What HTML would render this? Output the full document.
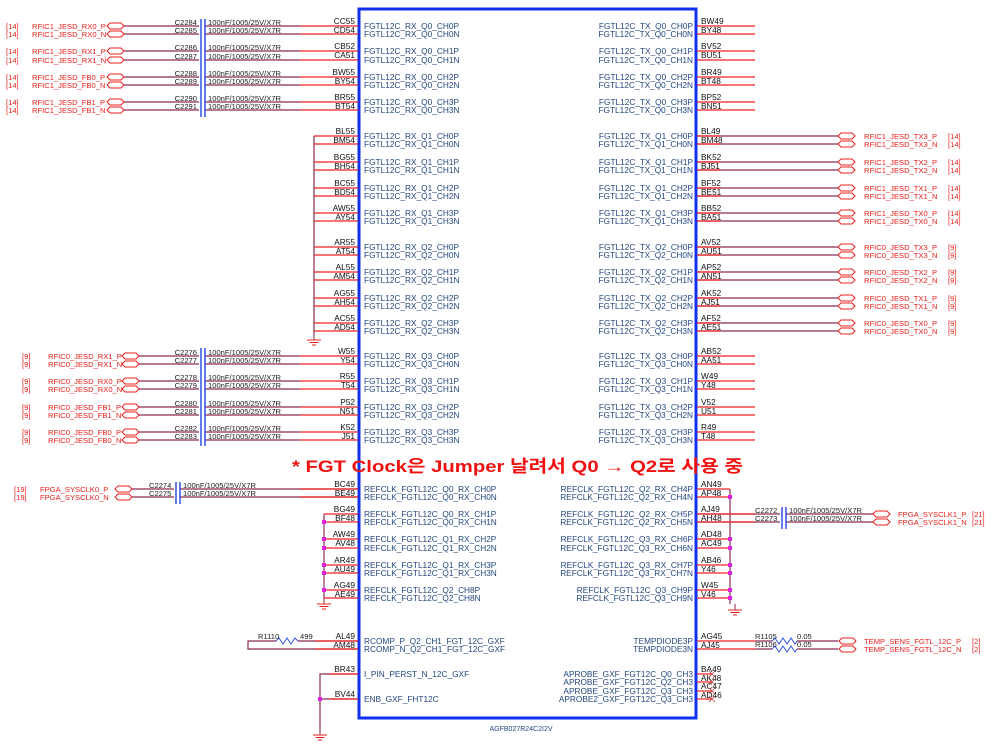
<!DOCTYPE html>
<html><head><meta charset="utf-8"><style>
html,body{margin:0;padding:0;background:#fff;}
svg{display:block;font-family:"Liberation Sans",Arial,sans-serif;}
.b{font-size:8.3px;fill:#23477e;}
.pn{font-size:8.3px;fill:#111;}
.r{font-size:7.6px;fill:#e8201c;}
.c{font-size:7.6px;fill:#222;}
.red{stroke:#f02020;stroke-width:1.2;}
.m{stroke:#8c2a55;stroke-width:1.2;}
.cap{stroke:#3050e0;stroke-width:1.5;}
.pt{fill:#fff;stroke:#e8201c;stroke-width:1;}
.pk{font-size:4px;fill:#e8201c;}
</style></head><body>
<svg width="999" height="750" viewBox="0 0 999 750" xmlns="http://www.w3.org/2000/svg">
<defs>
<path id="port" d="M0,-3 L11,-3 L14,0 L11,3 L0,3 L-3,0 Z"/>
<g id="gnd"><line x1="0" y1="0" x2="0" y2="6" stroke="#8c2a55"/><line x1="-7" y1="6" x2="7" y2="6" stroke="#e8201c"/><line x1="-4.5" y1="8.5" x2="4.5" y2="8.5" stroke="#e8201c"/><line x1="-2" y1="11" x2="2" y2="11" stroke="#e8201c"/></g>
</defs>

<!-- main box -->
<rect x="359" y="9" width="337" height="709" fill="none" stroke="#1030f0" stroke-width="3"/>
<text x="521" y="731" font-size="7px" fill="#23477e" text-anchor="middle">AGFB027R24C2I2V</text>

<!-- ===== LEFT RX Q0 (RFIC1) ===== -->
<g>
<line x1="122" y1="26" x2="300" y2="26" class="m"/><line x1="300" y1="26" x2="358" y2="26" class="red"/>
<line x1="122" y1="34" x2="300" y2="34" class="m"/><line x1="300" y1="34" x2="358" y2="34" class="red"/>
<line x1="122" y1="51" x2="300" y2="51" class="m"/><line x1="300" y1="51" x2="358" y2="51" class="red"/>
<line x1="122" y1="60" x2="300" y2="60" class="m"/><line x1="300" y1="60" x2="358" y2="60" class="red"/>
<line x1="122" y1="77" x2="300" y2="77" class="m"/><line x1="300" y1="77" x2="358" y2="77" class="red"/>
<line x1="122" y1="85" x2="300" y2="85" class="m"/><line x1="300" y1="85" x2="358" y2="85" class="red"/>
<line x1="122" y1="102" x2="300" y2="102" class="m"/><line x1="300" y1="102" x2="358" y2="102" class="red"/>
<line x1="122" y1="110" x2="300" y2="110" class="m"/><line x1="300" y1="110" x2="358" y2="110" class="red"/>
<rect x="199" y="20" width="6" height="98" fill="#fff"/>
<line x1="201" y1="19" x2="201" y2="117" class="cap"/><line x1="205" y1="19" x2="205" y2="117" class="cap"/>
</g>
<g class="c" text-anchor="end">
<text x="197" y="25">C2284</text><text x="197" y="33">C2285</text>
<text x="197" y="50">C2286</text><text x="197" y="59">C2287</text>
<text x="197" y="76">C2288</text><text x="197" y="84">C2289</text>
<text x="197" y="101">C2290</text><text x="197" y="109">C2291</text>
</g>
<g class="c">
<text x="208" y="25">100nF/1005/25V/X7R</text><text x="208" y="33">100nF/1005/25V/X7R</text>
<text x="208" y="50">100nF/1005/25V/X7R</text><text x="208" y="59">100nF/1005/25V/X7R</text>
<text x="208" y="76">100nF/1005/25V/X7R</text><text x="208" y="84">100nF/1005/25V/X7R</text>
<text x="208" y="101">100nF/1005/25V/X7R</text><text x="208" y="109">100nF/1005/25V/X7R</text>
</g>
<g>
<use href="#port" x="110" y="26" class="pt"/><use href="#port" x="110" y="34" class="pt"/>
<use href="#port" x="110" y="51" class="pt"/><use href="#port" x="110" y="60" class="pt"/>
<use href="#port" x="110" y="77" class="pt"/><use href="#port" x="110" y="85" class="pt"/>
<use href="#port" x="110" y="102" class="pt"/><use href="#port" x="110" y="110" class="pt"/>
</g>
<g class="r">
<text x="6" y="29">[14]</text><text x="32" y="29">RFIC1_JESD_RX0_P</text>
<text x="6" y="37">[14]</text><text x="32" y="37">RFIC1_JESD_RX0_N</text>
<text x="6" y="54">[14]</text><text x="32" y="54">RFIC1_JESD_RX1_P</text>
<text x="6" y="63">[14]</text><text x="32" y="63">RFIC1_JESD_RX1_N</text>
<text x="6" y="80">[14]</text><text x="32" y="80">RFIC1_JESD_FB0_P</text>
<text x="6" y="88">[14]</text><text x="32" y="88">RFIC1_JESD_FB0_N</text>
<text x="6" y="105">[14]</text><text x="32" y="105">RFIC1_JESD_FB1_P</text>
<text x="6" y="113">[14]</text><text x="32" y="113">RFIC1_JESD_FB1_N</text>
</g>

<!-- ===== LEFT RX Q1/Q2 grounded ===== -->
<line x1="314" y1="136" x2="314" y2="334" class="m"/>
<use href="#gnd" x="314" y="334"/>
<g class="red">
<line x1="314" y1="136" x2="358" y2="136"/><line x1="314" y1="144" x2="358" y2="144"/>
<line x1="314" y1="162" x2="358" y2="162"/><line x1="314" y1="170" x2="358" y2="170"/>
<line x1="314" y1="188" x2="358" y2="188"/><line x1="314" y1="196" x2="358" y2="196"/>
<line x1="314" y1="213" x2="358" y2="213"/><line x1="314" y1="221" x2="358" y2="221"/>
<line x1="314" y1="247" x2="358" y2="247"/><line x1="314" y1="255" x2="358" y2="255"/>
<line x1="314" y1="272" x2="358" y2="272"/><line x1="314" y1="280" x2="358" y2="280"/>
<line x1="314" y1="298" x2="358" y2="298"/><line x1="314" y1="306" x2="358" y2="306"/>
<line x1="314" y1="323" x2="358" y2="323"/><line x1="314" y1="331" x2="358" y2="331"/>
</g>

<!-- ===== LEFT RX Q3 (RFIC0) ===== -->
<g>
<line x1="137" y1="356" x2="300" y2="356" class="m"/><line x1="300" y1="356" x2="358" y2="356" class="red"/>
<line x1="137" y1="364" x2="300" y2="364" class="m"/><line x1="300" y1="364" x2="358" y2="364" class="red"/>
<line x1="137" y1="381" x2="300" y2="381" class="m"/><line x1="300" y1="381" x2="358" y2="381" class="red"/>
<line x1="137" y1="389" x2="300" y2="389" class="m"/><line x1="300" y1="389" x2="358" y2="389" class="red"/>
<line x1="137" y1="407" x2="300" y2="407" class="m"/><line x1="300" y1="407" x2="358" y2="407" class="red"/>
<line x1="137" y1="415" x2="300" y2="415" class="m"/><line x1="300" y1="415" x2="358" y2="415" class="red"/>
<line x1="137" y1="432" x2="300" y2="432" class="m"/><line x1="300" y1="432" x2="358" y2="432" class="red"/>
<line x1="137" y1="440" x2="300" y2="440" class="m"/><line x1="300" y1="440" x2="358" y2="440" class="red"/>
<rect x="199" y="348" width="6" height="98" fill="#fff"/>
<line x1="201" y1="348" x2="201" y2="446" class="cap"/><line x1="205" y1="348" x2="205" y2="446" class="cap"/>
<use href="#port" x="125" y="356" class="pt"/><use href="#port" x="125" y="364" class="pt"/>
<use href="#port" x="125" y="381" class="pt"/><use href="#port" x="125" y="389" class="pt"/>
<use href="#port" x="125" y="407" class="pt"/><use href="#port" x="125" y="415" class="pt"/>
<use href="#port" x="125" y="432" class="pt"/><use href="#port" x="125" y="440" class="pt"/>
</g>
<g class="c" text-anchor="end">
<text x="197" y="355">C2276</text><text x="197" y="363">C2277</text>
<text x="197" y="380">C2278</text><text x="197" y="388">C2279</text>
<text x="197" y="406">C2280</text><text x="197" y="414">C2281</text>
<text x="197" y="431">C2282</text><text x="197" y="439">C2283</text>
</g>
<g class="c">
<text x="208" y="355">100nF/1005/25V/X7R</text><text x="208" y="363">100nF/1005/25V/X7R</text>
<text x="208" y="380">100nF/1005/25V/X7R</text><text x="208" y="388">100nF/1005/25V/X7R</text>
<text x="208" y="406">100nF/1005/25V/X7R</text><text x="208" y="414">100nF/1005/25V/X7R</text>
<text x="208" y="431">100nF/1005/25V/X7R</text><text x="208" y="439">100nF/1005/25V/X7R</text>
</g>
<g class="r">
<text x="22" y="359">[9]</text><text x="48" y="359">RFIC0_JESD_RX1_P</text>
<text x="22" y="367">[9]</text><text x="48" y="367">RFIC0_JESD_RX1_N</text>
<text x="22" y="384">[9]</text><text x="48" y="384">RFIC0_JESD_RX0_P</text>
<text x="22" y="392">[9]</text><text x="48" y="392">RFIC0_JESD_RX0_N</text>
<text x="22" y="410">[9]</text><text x="48" y="410">RFIC0_JESD_FB1_P</text>
<text x="22" y="418">[9]</text><text x="48" y="418">RFIC0_JESD_FB1_N</text>
<text x="22" y="435">[9]</text><text x="48" y="435">RFIC0_JESD_FB0_P</text>
<text x="22" y="443">[9]</text><text x="48" y="443">RFIC0_JESD_FB0_N</text>
</g>

<!-- left pin numbers RX -->
<g class="pn" text-anchor="end">
<text x="355" y="24">CC55</text><text x="355" y="33">CD54</text>
<text x="355" y="49">CB52</text><text x="355" y="58">CA51</text>
<text x="355" y="75">BW55</text><text x="355" y="84">BY54</text>
<text x="355" y="100">BR55</text><text x="355" y="109">BT54</text>
<text x="355" y="134">BL55</text><text x="355" y="143">BM54</text>
<text x="355" y="160">BG55</text><text x="355" y="169">BH54</text>
<text x="355" y="186">BC55</text><text x="355" y="195">BD54</text>
<text x="355" y="211">AW55</text><text x="355" y="220">AY54</text>
<text x="355" y="245">AR55</text><text x="355" y="254">AT54</text>
<text x="355" y="270">AL55</text><text x="355" y="279">AM54</text>
<text x="355" y="296">AG55</text><text x="355" y="305">AH54</text>
<text x="355" y="321">AC55</text><text x="355" y="330">AD54</text>
<text x="355" y="354">W55</text><text x="355" y="363">Y54</text>
<text x="355" y="379">R55</text><text x="355" y="388">T54</text>
<text x="355" y="405">P52</text><text x="355" y="414">N51</text>
<text x="355" y="430">K52</text><text x="355" y="439">J51</text>
</g>
<!-- left box labels RX -->
<g class="b">
<text x="364" y="29">FGTL12C_RX_Q0_CH0P</text><text x="364" y="37">FGTL12C_RX_Q0_CH0N</text>
<text x="364" y="54">FGTL12C_RX_Q0_CH1P</text><text x="364" y="63">FGTL12C_RX_Q0_CH1N</text>
<text x="364" y="80">FGTL12C_RX_Q0_CH2P</text><text x="364" y="88">FGTL12C_RX_Q0_CH2N</text>
<text x="364" y="105">FGTL12C_RX_Q0_CH3P</text><text x="364" y="113">FGTL12C_RX_Q0_CH3N</text>
<text x="364" y="139">FGTL12C_RX_Q1_CH0P</text><text x="364" y="147">FGTL12C_RX_Q1_CH0N</text>
<text x="364" y="165">FGTL12C_RX_Q1_CH1P</text><text x="364" y="173">FGTL12C_RX_Q1_CH1N</text>
<text x="364" y="191">FGTL12C_RX_Q1_CH2P</text><text x="364" y="199">FGTL12C_RX_Q1_CH2N</text>
<text x="364" y="216">FGTL12C_RX_Q1_CH3P</text><text x="364" y="224">FGTL12C_RX_Q1_CH3N</text>
<text x="364" y="250">FGTL12C_RX_Q2_CH0P</text><text x="364" y="258">FGTL12C_RX_Q2_CH0N</text>
<text x="364" y="275">FGTL12C_RX_Q2_CH1P</text><text x="364" y="283">FGTL12C_RX_Q2_CH1N</text>
<text x="364" y="301">FGTL12C_RX_Q2_CH2P</text><text x="364" y="309">FGTL12C_RX_Q2_CH2N</text>
<text x="364" y="326">FGTL12C_RX_Q2_CH3P</text><text x="364" y="334">FGTL12C_RX_Q2_CH3N</text>
<text x="364" y="359">FGTL12C_RX_Q3_CH0P</text><text x="364" y="367">FGTL12C_RX_Q3_CH0N</text>
<text x="364" y="384">FGTL12C_RX_Q3_CH1P</text><text x="364" y="392">FGTL12C_RX_Q3_CH1N</text>
<text x="364" y="410">FGTL12C_RX_Q3_CH2P</text><text x="364" y="418">FGTL12C_RX_Q3_CH2N</text>
<text x="364" y="435">FGTL12C_RX_Q3_CH3P</text><text x="364" y="443">FGTL12C_RX_Q3_CH3N</text>
</g>

<!-- ===== RIGHT TX ===== -->
<g class="red">
<line x1="697" y1="26" x2="755" y2="26"/><line x1="697" y1="34" x2="755" y2="34"/>
<line x1="697" y1="51" x2="755" y2="51"/><line x1="697" y1="60" x2="755" y2="60"/>
<line x1="697" y1="77" x2="755" y2="77"/><line x1="697" y1="85" x2="755" y2="85"/>
<line x1="697" y1="102" x2="755" y2="102"/><line x1="697" y1="110" x2="755" y2="110"/>
<line x1="697" y1="356" x2="755" y2="356"/><line x1="697" y1="364" x2="755" y2="364"/>
<line x1="697" y1="381" x2="755" y2="381"/><line x1="697" y1="389" x2="755" y2="389"/>
<line x1="697" y1="407" x2="755" y2="407"/><line x1="697" y1="415" x2="755" y2="415"/>
<line x1="697" y1="432" x2="755" y2="432"/><line x1="697" y1="440" x2="755" y2="440"/>
</g>
<g>
<line x1="697" y1="136" x2="840" y2="136" class="m"/><line x1="697" y1="144" x2="840" y2="144" class="m"/>
<line x1="697" y1="162" x2="840" y2="162" class="m"/><line x1="697" y1="170" x2="840" y2="170" class="m"/>
<line x1="697" y1="188" x2="840" y2="188" class="m"/><line x1="697" y1="196" x2="840" y2="196" class="m"/>
<line x1="697" y1="213" x2="840" y2="213" class="m"/><line x1="697" y1="221" x2="840" y2="221" class="m"/>
<line x1="697" y1="247" x2="840" y2="247" class="m"/><line x1="697" y1="255" x2="840" y2="255" class="m"/>
<line x1="697" y1="272" x2="840" y2="272" class="m"/><line x1="697" y1="280" x2="840" y2="280" class="m"/>
<line x1="697" y1="298" x2="840" y2="298" class="m"/><line x1="697" y1="306" x2="840" y2="306" class="m"/>
<line x1="697" y1="323" x2="840" y2="323" class="m"/><line x1="697" y1="331" x2="840" y2="331" class="m"/>
<g class="red">
<line x1="697" y1="136" x2="720" y2="136"/><line x1="697" y1="144" x2="720" y2="144"/>
<line x1="697" y1="162" x2="720" y2="162"/><line x1="697" y1="170" x2="720" y2="170"/>
<line x1="697" y1="188" x2="720" y2="188"/><line x1="697" y1="196" x2="720" y2="196"/>
<line x1="697" y1="213" x2="720" y2="213"/><line x1="697" y1="221" x2="720" y2="221"/>
<line x1="697" y1="247" x2="720" y2="247"/><line x1="697" y1="255" x2="720" y2="255"/>
<line x1="697" y1="272" x2="720" y2="272"/><line x1="697" y1="280" x2="720" y2="280"/>
<line x1="697" y1="298" x2="720" y2="298"/><line x1="697" y1="306" x2="720" y2="306"/>
<line x1="697" y1="323" x2="720" y2="323"/><line x1="697" y1="331" x2="720" y2="331"/>
</g>
<use href="#port" x="841" y="136" class="pt"/><use href="#port" x="841" y="144" class="pt"/>
<use href="#port" x="841" y="162" class="pt"/><use href="#port" x="841" y="170" class="pt"/>
<use href="#port" x="841" y="188" class="pt"/><use href="#port" x="841" y="196" class="pt"/>
<use href="#port" x="841" y="213" class="pt"/><use href="#port" x="841" y="221" class="pt"/>
<use href="#port" x="841" y="247" class="pt"/><use href="#port" x="841" y="255" class="pt"/>
<use href="#port" x="841" y="272" class="pt"/><use href="#port" x="841" y="280" class="pt"/>
<use href="#port" x="841" y="298" class="pt"/><use href="#port" x="841" y="306" class="pt"/>
<use href="#port" x="841" y="323" class="pt"/><use href="#port" x="841" y="331" class="pt"/>
</g>
<g class="r">
<text x="864" y="139">RFIC1_JESD_TX3_P</text><text x="948" y="139">[14]</text>
<text x="864" y="147">RFIC1_JESD_TX3_N</text><text x="948" y="147">[14]</text>
<text x="864" y="165">RFIC1_JESD_TX2_P</text><text x="948" y="165">[14]</text>
<text x="864" y="173">RFIC1_JESD_TX2_N</text><text x="948" y="173">[14]</text>
<text x="864" y="191">RFIC1_JESD_TX1_P</text><text x="948" y="191">[14]</text>
<text x="864" y="199">RFIC1_JESD_TX1_N</text><text x="948" y="199">[14]</text>
<text x="864" y="216">RFIC1_JESD_TX0_P</text><text x="948" y="216">[14]</text>
<text x="864" y="224">RFIC1_JESD_TX0_N</text><text x="948" y="224">[14]</text>
<text x="864" y="250">RFIC0_JESD_TX3_P</text><text x="948" y="250">[9]</text>
<text x="864" y="258">RFIC0_JESD_TX3_N</text><text x="948" y="258">[9]</text>
<text x="864" y="275">RFIC0_JESD_TX2_P</text><text x="948" y="275">[9]</text>
<text x="864" y="283">RFIC0_JESD_TX2_N</text><text x="948" y="283">[9]</text>
<text x="864" y="301">RFIC0_JESD_TX1_P</text><text x="948" y="301">[9]</text>
<text x="864" y="309">RFIC0_JESD_TX1_N</text><text x="948" y="309">[9]</text>
<text x="864" y="326">RFIC0_JESD_TX0_P</text><text x="948" y="326">[9]</text>
<text x="864" y="334">RFIC0_JESD_TX0_N</text><text x="948" y="334">[9]</text>
</g>
<g class="pn">
<text x="701" y="24">BW49</text><text x="701" y="33">BY48</text>
<text x="701" y="49">BV52</text><text x="701" y="58">BU51</text>
<text x="701" y="75">BR49</text><text x="701" y="84">BT48</text>
<text x="701" y="100">BP52</text><text x="701" y="109">BN51</text>
<text x="701" y="134">BL49</text><text x="701" y="143">BM48</text>
<text x="701" y="160">BK52</text><text x="701" y="169">BJ51</text>
<text x="701" y="186">BF52</text><text x="701" y="195">BE51</text>
<text x="701" y="211">BB52</text><text x="701" y="220">BA51</text>
<text x="701" y="245">AV52</text><text x="701" y="254">AU51</text>
<text x="701" y="270">AP52</text><text x="701" y="279">AN51</text>
<text x="701" y="296">AK52</text><text x="701" y="305">AJ51</text>
<text x="701" y="321">AF52</text><text x="701" y="330">AE51</text>
<text x="701" y="354">AB52</text><text x="701" y="363">AA51</text>
<text x="701" y="379">W49</text><text x="701" y="388">Y48</text>
<text x="701" y="405">V52</text><text x="701" y="414">U51</text>
<text x="701" y="430">R49</text><text x="701" y="439">T48</text>
</g>
<g class="b" text-anchor="end">
<text x="693" y="29">FGTL12C_TX_Q0_CH0P</text><text x="693" y="37">FGTL12C_TX_Q0_CH0N</text>
<text x="693" y="54">FGTL12C_TX_Q0_CH1P</text><text x="693" y="63">FGTL12C_TX_Q0_CH1N</text>
<text x="693" y="80">FGTL12C_TX_Q0_CH2P</text><text x="693" y="88">FGTL12C_TX_Q0_CH2N</text>
<text x="693" y="105">FGTL12C_TX_Q0_CH3P</text><text x="693" y="113">FGTL12C_TX_Q0_CH3N</text>
<text x="693" y="139">FGTL12C_TX_Q1_CH0P</text><text x="693" y="147">FGTL12C_TX_Q1_CH0N</text>
<text x="693" y="165">FGTL12C_TX_Q1_CH1P</text><text x="693" y="173">FGTL12C_TX_Q1_CH1N</text>
<text x="693" y="191">FGTL12C_TX_Q1_CH2P</text><text x="693" y="199">FGTL12C_TX_Q1_CH2N</text>
<text x="693" y="216">FGTL12C_TX_Q1_CH3P</text><text x="693" y="224">FGTL12C_TX_Q1_CH3N</text>
<text x="693" y="250">FGTL12C_TX_Q2_CH0P</text><text x="693" y="258">FGTL12C_TX_Q2_CH0N</text>
<text x="693" y="275">FGTL12C_TX_Q2_CH1P</text><text x="693" y="283">FGTL12C_TX_Q2_CH1N</text>
<text x="693" y="301">FGTL12C_TX_Q2_CH2P</text><text x="693" y="309">FGTL12C_TX_Q2_CH2N</text>
<text x="693" y="326">FGTL12C_TX_Q2_CH3P</text><text x="693" y="334">FGTL12C_TX_Q2_CH3N</text>
<text x="693" y="359">FGTL12C_TX_Q3_CH0P</text><text x="693" y="367">FGTL12C_TX_Q3_CH0N</text>
<text x="693" y="384">FGTL12C_TX_Q3_CH1P</text><text x="693" y="392">FGTL12C_TX_Q3_CH1N</text>
<text x="693" y="410">FGTL12C_TX_Q3_CH2P</text><text x="693" y="418">FGTL12C_TX_Q3_CH2N</text>
<text x="693" y="435">FGTL12C_TX_Q3_CH3P</text><text x="693" y="443">FGTL12C_TX_Q3_CH3N</text>
</g>

<!-- note -->
<text x="292" y="472" font-size="17px" font-weight="bold" fill="#f01010" textLength="451" lengthAdjust="spacingAndGlyphs" font-family="'Liberation Sans','Noto Sans CJK KR',sans-serif">* FGT Clock은 Jumper 날려서 Q0 → Q2로 사용 중</text>

<!-- ===== REFCLK LEFT ===== -->
<line x1="130" y1="489" x2="358" y2="489" class="m"/><line x1="130" y1="497" x2="358" y2="497" class="m"/>
<line x1="300" y1="489" x2="358" y2="489" class="red"/><line x1="300" y1="497" x2="358" y2="497" class="red"/>
<rect x="174" y="482" width="6" height="22" fill="#fff"/>
<line x1="176" y1="482" x2="176" y2="504" class="cap"/><line x1="180" y1="482" x2="180" y2="504" class="cap"/>
<use href="#port" x="118" y="489" class="pt"/><use href="#port" x="118" y="497" class="pt"/>
<g class="c"><text x="149" y="488">C2274</text><text x="149" y="496">C2275</text>
<text x="183" y="488">100nF/1005/25V/X7R</text><text x="183" y="496">100nF/1005/25V/X7R</text></g>
<g class="r"><text x="14" y="492">[19]</text><text x="40" y="492">FPGA_SYSCLK0_P</text>
<text x="14" y="500">[19]</text><text x="40" y="500">FPGA_SYSCLK0_N</text></g>
<line x1="324" y1="514" x2="324" y2="598" class="m"/>
<use href="#gnd" x="324" y="598"/>
<g class="red">
<line x1="324" y1="514" x2="358" y2="514"/><line x1="324" y1="522" x2="358" y2="522"/>
<line x1="324" y1="539" x2="358" y2="539"/><line x1="324" y1="548" x2="358" y2="548"/>
<line x1="324" y1="565" x2="358" y2="565"/><line x1="324" y1="573" x2="358" y2="573"/>
<line x1="324" y1="590" x2="358" y2="590"/><line x1="324" y1="598" x2="358" y2="598"/>
</g>
<g fill="#e020e0">
<rect x="322" y="520" width="4" height="4"/><rect x="322" y="537" width="4" height="4"/><rect x="322" y="546" width="4" height="4"/>
<rect x="322" y="563" width="4" height="4"/><rect x="322" y="571" width="4" height="4"/><rect x="322" y="588" width="4" height="4"/>
</g>
<g class="pn" text-anchor="end">
<text x="355" y="487">BC49</text><text x="355" y="496">BE49</text>
<text x="355" y="512">BG49</text><text x="355" y="521">BF48</text>
<text x="355" y="537">AW49</text><text x="355" y="546">AV48</text>
<text x="355" y="563">AR49</text><text x="355" y="572">AU49</text>
<text x="355" y="588">AG49</text><text x="355" y="597">AE49</text>
<text x="355" y="639">AL49</text><text x="355" y="648">AM48</text>
<text x="355" y="672">BR43</text><text x="355" y="697">BV44</text>
</g>
<g class="b">
<text x="364" y="492">REFCLK_FGTL12C_Q0_RX_CH0P</text><text x="364" y="500">REFCLK_FGTL12C_Q0_RX_CH0N</text>
<text x="364" y="517">REFCLK_FGTL12C_Q0_RX_CH1P</text><text x="364" y="525">REFCLK_FGTL12C_Q0_RX_CH1N</text>
<text x="364" y="542">REFCLK_FGTL12C_Q1_RX_CH2P</text><text x="364" y="551">REFCLK_FGTL12C_Q1_RX_CH2N</text>
<text x="364" y="568">REFCLK_FGTL12C_Q1_RX_CH3P</text><text x="364" y="576">REFCLK_FGTL12C_Q1_RX_CH3N</text>
<text x="364" y="593">REFCLK_FGTL12C_Q2_CH8P</text><text x="364" y="601">REFCLK_FGTL12C_Q2_CH8N</text>
<text x="364" y="644">RCOMP_P_Q2_CH1_FGT_12C_GXF</text><text x="364" y="652">RCOMP_N_Q2_CH1_FGT_12C_GXF</text>
<text x="364" y="677">I_PIN_PERST_N_12C_GXF</text><text x="364" y="702">ENB_GXF_FHT12C</text>
</g>

<!-- ===== REFCLK RIGHT ===== -->
<line x1="730" y1="489" x2="730" y2="604" class="m"/>
<use href="#gnd" x="735" y="604"/>
<line x1="697" y1="514" x2="873" y2="514" class="m"/><line x1="697" y1="522" x2="873" y2="522" class="m"/>
<rect x="780" y="507" width="6" height="22" fill="#fff"/>
<line x1="782" y1="507" x2="782" y2="529" class="cap"/><line x1="786" y1="507" x2="786" y2="529" class="cap"/>
<use href="#port" x="876" y="514" class="pt"/><use href="#port" x="876" y="522" class="pt"/>
<g class="c"><text x="755" y="513">C2272</text><text x="755" y="521">C2273</text>
<text x="789" y="513">100nF/1005/25V/X7R</text><text x="789" y="521">100nF/1005/25V/X7R</text></g>
<g class="r"><text x="898" y="517">FPGA_SYSCLK1_P</text><text x="972" y="517">[21]</text>
<text x="898" y="525">FPGA_SYSCLK1_N</text><text x="972" y="525">[21]</text></g>
<g class="red">
<line x1="697" y1="489" x2="730" y2="489"/><line x1="697" y1="497" x2="730" y2="497"/>
<line x1="697" y1="514" x2="755" y2="514"/><line x1="697" y1="522" x2="755" y2="522"/>
<line x1="697" y1="539" x2="730" y2="539"/><line x1="697" y1="548" x2="730" y2="548"/>
<line x1="697" y1="565" x2="730" y2="565"/><line x1="697" y1="573" x2="730" y2="573"/>
<line x1="697" y1="590" x2="730" y2="590"/><line x1="697" y1="598" x2="730" y2="598"/>
<line x1="697" y1="641" x2="755" y2="641"/><line x1="697" y1="649" x2="755" y2="649"/>
<line x1="697" y1="674" x2="712" y2="674"/><line x1="697" y1="682" x2="712" y2="682"/>
<line x1="697" y1="691" x2="712" y2="691"/><line x1="697" y1="699" x2="712" y2="699"/>
</g>
<g fill="#e020e0">
<rect x="728" y="495" width="4" height="4"/><rect x="728" y="537" width="4" height="4"/><rect x="728" y="546" width="4" height="4"/>
<rect x="728" y="563" width="4" height="4"/><rect x="728" y="571" width="4" height="4"/><rect x="728" y="588" width="4" height="4"/><rect x="728" y="596" width="4" height="4"/>
</g>
<g class="pn">
<text x="701" y="487">AN49</text><text x="701" y="496">AP48</text>
<text x="701" y="512">AJ49</text><text x="701" y="521">AH48</text>
<text x="701" y="537">AD48</text><text x="701" y="546">AC49</text>
<text x="701" y="563">AB46</text><text x="701" y="572">Y46</text>
<text x="701" y="588">W45</text><text x="701" y="597">V46</text>
<text x="701" y="639">AG45</text><text x="701" y="648">AJ45</text>
<text x="701" y="672">BA49</text><text x="701" y="681">AK48</text>
<text x="701" y="689">AC47</text><text x="701" y="698">AD46</text>
</g>
<g class="b" text-anchor="end">
<text x="693" y="492">REFCLK_FGTL12C_Q2_RX_CH4P</text><text x="693" y="500">REFCLK_FGTL12C_Q2_RX_CH4N</text>
<text x="693" y="517">REFCLK_FGTL12C_Q2_RX_CH5P</text><text x="693" y="525">REFCLK_FGTL12C_Q2_RX_CH5N</text>
<text x="693" y="542">REFCLK_FGTL12C_Q3_RX_CH6P</text><text x="693" y="551">REFCLK_FGTL12C_Q3_RX_CH6N</text>
<text x="693" y="568">REFCLK_FGTL12C_Q3_RX_CH7P</text><text x="693" y="576">REFCLK_FGTL12C_Q3_RX_CH7N</text>
<text x="693" y="593">REFCLK_FGTL12C_Q3_CH9P</text><text x="693" y="601">REFCLK_FGTL12C_Q3_CH9N</text>
<text x="693" y="644">TEMPDIODE3P</text><text x="693" y="652">TEMPDIODE3N</text>
<text x="693" y="677">APROBE_GXF_FGT12C_Q0_CH3</text><text x="693" y="685">APROBE_GXF_FGT12C_Q2_CH3</text>
<text x="693" y="694">APROBE_GXF_FGT12C_Q3_CH3</text><text x="693" y="702">APROBE2_GXF_FGT12C_Q3_CH3</text>
</g>
<g stroke="#c04040" stroke-width="0.8">
<path d="M709,671 l6,6 M715,671 l-6,6"/><path d="M709,679 l6,6 M715,679 l-6,6"/>
<path d="M709,688 l6,6 M715,688 l-6,6"/><path d="M709,696 l6,6 M715,696 l-6,6"/>
</g>

<!-- TEMP resistors -->
<line x1="755" y1="641" x2="772" y2="641" class="m"/><line x1="755" y1="649" x2="772" y2="649" class="m"/>
<polyline points="772,641 775,638 779,644 783,638 787,644 791,638 795,644 797,641" fill="none" stroke="#3050e0"/>
<polyline points="772,649 775,646 779,652 783,646 787,652 791,646 795,652 797,649" fill="none" stroke="#3050e0"/>
<line x1="797" y1="641" x2="838" y2="641" class="m"/><line x1="797" y1="649" x2="838" y2="649" class="m"/>
<use href="#port" x="842" y="641" class="pt"/><use href="#port" x="842" y="649" class="pt"/>
<g class="c"><text x="755" y="639">R1105</text><text x="755" y="647">R1106</text>
<text x="797" y="639">0.05</text><text x="797" y="647">0.05</text></g>
<g class="r"><text x="864" y="644">TEMP_SENS_FGTL_12C_P</text><text x="972" y="644">[2]</text>
<text x="864" y="652">TEMP_SENS_FGTL_12C_N</text><text x="972" y="652">[2]</text></g>

<!-- RCOMP -->
<path d="M276,641 L248,641 L248,649 L358,649" fill="none" class="m"/>
<polyline points="276,641 279,638 283,644 287,638 291,644 295,638 298,641" fill="none" stroke="#3050e0"/>
<line x1="298" y1="641" x2="358" y2="641" class="m"/>
<line x1="315" y1="641" x2="358" y2="641" class="red"/><line x1="315" y1="649" x2="358" y2="649" class="red"/>
<g class="c"><text x="258" y="639">R1110</text><text x="300" y="639">499</text></g>

<!-- PERST / ENB -->
<path d="M358,674 L320,674 L320,731" fill="none" class="m"/>
<line x1="320" y1="699" x2="358" y2="699" class="m"/>
<line x1="330" y1="674" x2="358" y2="674" class="red"/><line x1="330" y1="699" x2="358" y2="699" class="red"/>
<rect x="318" y="697" width="4" height="4" fill="#e020e0"/>
<use href="#gnd" x="320" y="729"/>
</svg>
</body></html>
